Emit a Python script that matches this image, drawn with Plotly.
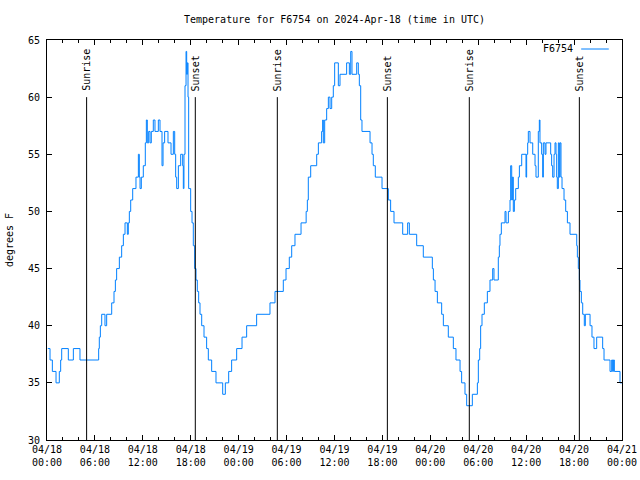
import pandas as pd
import plotly.graph_objects as go

BASE = pd.Timestamp("2024-04-18 00:00")

# hours since 2024-04-18 00:00 UTC and temperature (deg F)
hours = [0.1, 0.38, 0.67, 1.13, 1.54, 1.71, 1.84, 2.67, 3.30, 4.13, 6.47, 6.55, 6.68, 6.85, 7.26, 7.47,
         8.10, 8.39, 8.56, 8.72, 9.06, 9.35, 9.56, 9.77, 10.06, 10.18, 10.31, 10.48, 10.73, 11.14,
         11.44, 11.56, 11.65, 11.81, 12.06, 12.31, 12.44, 12.56, 12.73, 12.90, 13.06, 13.31, 13.52,
         13.94, 14.15, 14.40, 14.53, 14.73, 15.15, 15.53, 15.82, 15.99, 16.11, 16.24, 16.45, 16.74,
         16.99, 17.07, 17.15, 17.28, 17.41, 17.49, 17.57, 17.66, 17.74, 17.99, 18.16, 18.32, 18.49,
         18.66, 18.82, 18.99, 19.16, 19.37, 19.66, 19.99, 20.20, 20.62, 21.16, 22.00, 22.33, 22.75,
         23.12, 23.75, 24.42, 25.00, 26.25, 27.92, 28.55, 29.59, 29.93, 30.34, 30.64, 31.05, 31.81,
         32.45, 32.60, 32.72, 33.02, 33.77, 33.98, 34.39, 34.52, 34.60, 34.77, 35.02, 35.23, 35.44,
         35.65, 35.85, 36.02, 36.48, 36.69, 37.52, 37.86, 38.03, 38.19, 38.78, 38.98, 39.11, 39.28,
         39.44, 40.45, 40.70, 40.86, 41.11, 41.95, 42.74, 43.03, 43.45, 44.54, 45.16, 45.37, 46.29,
         47.12, 48.25, 48.38, 48.59, 48.88, 49.42, 49.63, 50.25, 50.88, 51.21, 51.72, 51.92, 52.34,
         52.55, 53.26, 53.89, 54.01, 54.18, 54.30, 54.47, 54.76, 55.14, 55.47, 55.81, 55.97, 56.51,
         56.64, 56.72, 56.89, 57.35, 57.48, 57.77, 57.98, 58.06, 58.19, 58.27, 58.39, 58.52, 58.69,
         59.02, 59.15, 59.44, 59.98, 60.06, 60.19, 60.27, 60.48, 60.82, 61.11, 61.23, 61.52, 61.65,
         61.73, 61.94, 62.07, 62.15, 62.36, 62.48, 63.07, 63.19, 63.32, 63.49, 63.61, 63.74, 63.82,
         63.90, 64.03, 64.15, 64.24, 64.36, 64.49, 64.74, 64.95, 65.16, 65.49, 66.33, 66.41, 66.53,
         66.66, 66.74, 66.91, 67.08, 67.28, 67.41, 68.00, 68.24, 68.49, 68.83, 69.58, 69.75, 70.50,
         70.71, 70.83, 70.92, 71.04, 71.75, 72.00]
temps = [38, 37, 36, 35, 36, 37, 38, 37, 38, 37, 38, 39, 40, 41, 40, 41,
         42, 43, 44, 45, 46, 47, 48, 49, 48, 49, 50, 51, 52, 53,
         55, 53, 52, 53, 54, 56, 58, 56, 57, 56, 57, 58, 57,
         58, 57, 54, 56, 57, 56, 55, 57, 55, 53, 52, 54, 55,
         54, 52, 55, 61, 64, 62, 63, 60, 52, 50, 49, 47, 45,
         44, 43, 42, 41, 40, 39, 38, 37, 36, 35, 34, 35, 36,
         37, 38, 39, 40, 41, 42, 43, 44, 45, 46, 47, 48, 49,
         50, 51, 53, 54, 55, 56, 57, 58, 56, 58, 59, 60, 59,
         60, 61, 63, 61, 62, 63, 62, 64, 62, 63, 62, 61, 58,
         57, 56, 55, 54, 53, 52, 51, 50, 49, 48, 49, 48, 47,
         46, 45, 44, 43, 42, 41, 40, 39, 38, 37, 36, 35, 34,
         33, 34, 35, 37, 38, 40, 41, 42, 43, 44, 45, 44, 46,
         47, 48, 49, 50, 49, 50, 51, 54, 51, 53, 50, 51, 52,
         53, 54, 55, 53, 55, 56, 57, 56, 55, 54, 53, 57, 58,
         56, 55, 53, 56, 55, 56, 55, 54, 53, 55, 56, 55, 53,
         52, 56, 53, 56, 53, 52, 51, 50, 49, 48, 47, 46, 45,
         44, 43, 42, 41, 40, 41, 40, 39, 38, 39, 38, 37, 36,
         37, 36, 37, 36, 35, 35]

# sun events (hours since start)
event_hours = [4.96, 18.57, 28.84, 42.62, 52.88, 66.66]
event_labels = ["Sunrise", "Sunset", "Sunrise", "Sunset", "Sunrise", "Sunset"]
event_line_top = 60

series_name = "F6754"
title_text = "Temperature for F6754 on 2024-Apr-18 (time in UTC)"
y_label = "degrees F"
y_range = [30, 65]

FONT = "DejaVu Sans Mono"
COLOR = "#0080ff"

times = [BASE + pd.Timedelta(hours=h) for h in hours]
event_times = [BASE + pd.Timedelta(hours=h) for h in event_hours]

fig = go.Figure()
fig.add_trace(go.Scatter(x=times, y=temps, mode="lines", name=series_name,
                         line=dict(color=COLOR, width=1, shape="hv"), showlegend=False))

for t, lab in zip(event_times, event_labels):
    fig.add_shape(type="line", x0=t, x1=t, y0=y_range[0], y1=event_line_top,
                  xref="x", yref="y", line=dict(color="black", width=1))
    fig.add_annotation(x=t, y=event_line_top, xref="x", yref="y", text=lab,
                       textangle=-90, showarrow=False, yanchor="bottom", xanchor="center",
                       yshift=4, font=dict(family=FONT, size=10, color="black"))

# legend (gnuplot style: text then line sample)
fig.add_annotation(x=0.918, y=0.9775, xref="paper", yref="paper", text=series_name,
                   showarrow=False, xanchor="right", yanchor="middle",
                   font=dict(family=FONT, size=10, color="black"))
fig.add_shape(type="line", x0=0.929, x1=0.977, y0=0.9775, y1=0.9775, xref="paper", yref="paper",
              line=dict(color=COLOR, width=1))

fig.update_layout(
    width=640, height=480,
    margin=dict(l=47, r=18, t=40, b=40, autoexpand=False),
    paper_bgcolor="white", plot_bgcolor="white",
    font=dict(family=FONT, size=10, color="black"),
    title=dict(text=title_text, xref="paper", x=0.5, xanchor="center",
               yref="container", y=1 - 19 / 480, yanchor="middle",
               font=dict(family=FONT, size=10, color="black")),
    showlegend=False,
)
fig.update_xaxes(
    type="date", automargin=False,
    range=[BASE, BASE + pd.Timedelta(hours=72)],
    dtick=6 * 3600 * 1000, tick0=BASE,
    tickformat="%m/%d<br>%H:%M",
    ticks="inside", ticklen=5, tickcolor="black", tickwidth=1,
    minor=dict(dtick=2 * 3600 * 1000, ticks="inside", ticklen=3, tickcolor="black", showgrid=False),
    showline=True, linecolor="black", linewidth=1, mirror="ticks",
    showgrid=False, zeroline=False,
    tickfont=dict(family=FONT, size=10, color="black"),
)
fig.update_yaxes(
    automargin=False,
    range=y_range, dtick=5, tick0=30,
    ticks="inside", ticklen=5, tickcolor="black", tickwidth=1,
    ticklabelstandoff=4,
    showline=True, linecolor="black", linewidth=1, mirror="ticks",
    showgrid=False, zeroline=False,
    title=dict(text=y_label, standoff=12, font=dict(family=FONT, size=10, color="black")),
    tickfont=dict(family=FONT, size=10, color="black"),
)

fig.write_html("out.html", config={"displayModeBar": False},
               post_script="document.body.style.margin='0';document.body.style.overflow='hidden';")
